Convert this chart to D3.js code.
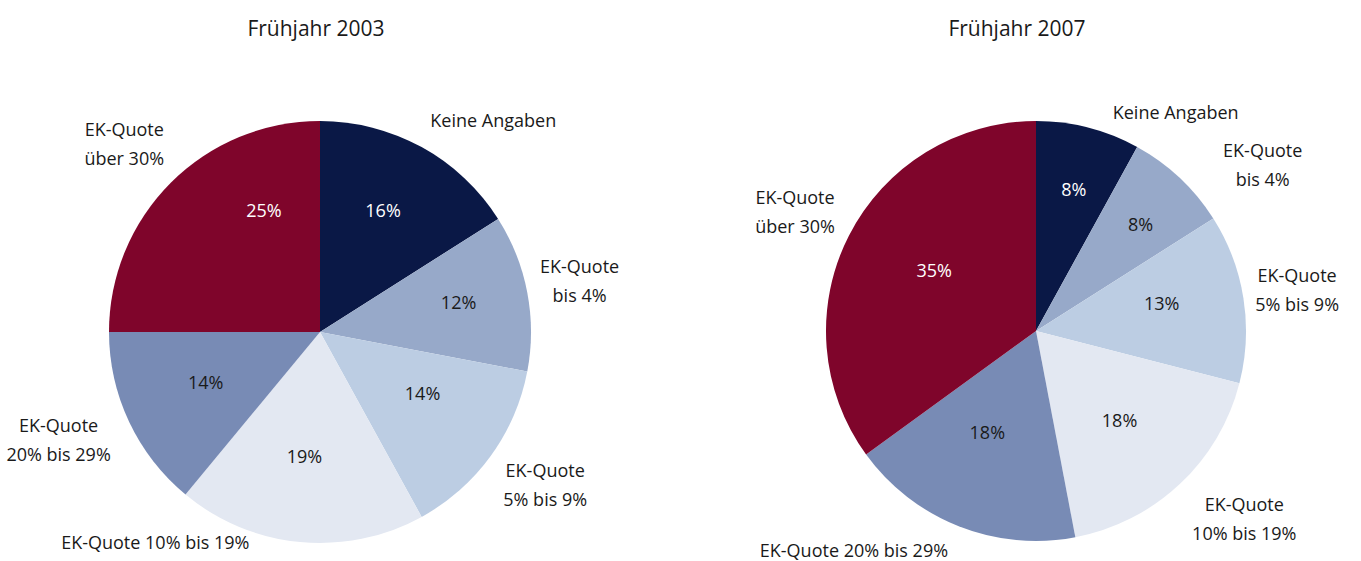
<!DOCTYPE html>
<html>
<head>
<meta charset="utf-8">
<script src="https://cdn.jsdelivr.net/npm/d3@7"></script>
<style>
  body { margin: 0; background: #fff; }
  svg text { font-family: "Open Sans", "Noto Sans", sans-serif; fill: #1a1a1a; }
</style>
</head>
<body>
<div id="chart"></div>
<script>
"use strict";

// categories, in clockwise order starting at 12 o'clock
var categories = [
  ["Keine Angaben"],
  ["EK-Quote", "bis 4%"],
  ["EK-Quote", "5% bis 9%"],
  ["EK-Quote", "10% bis 19%"],
  ["EK-Quote", "20% bis 29%"],
  ["EK-Quote", "über 30%"]
];
var titles = ["Frühjahr 2003", "Frühjahr 2007"];
var values2003 = [16, 12, 14, 19, 14, 25];
var values2007 = [8, 8, 13, 18, 18, 35];

var colors = ["#0a1846", "#97a9c9", "#bccde3", "#e3e8f2", "#788bb5", "#7f052b"];
var valueTextColor = ["#ffffff", "#1a1a1a", "#1a1a1a", "#1a1a1a", "#1a1a1a", "#ffffff"];

var width = 1361, height = 561;

var svg = d3.select("#chart").append("svg")
  .attr("width", width)
  .attr("height", height);

// layout: pie placement plus hand tweaks for labels the way Excel moved them
var panels = [
  {title: titles[0], values: values2003, cx: 320, cy: 332, r: 211, titleX: 316,
   valueNudge: [[-1, 0], [8, 1], [-5, -11], [-3, -3], [6, -1], [38, -22]],
   labelNudge: [[0, 0], [-5, -2], [-2, 4], [-49, 2], [-2, 0], [6, -7]]},
  {title: titles[1], values: values2007, cx: 1036, cy: 331, r: 210, titleX: 1017,
   valueNudge: [[5, -8], [14, -5], [-5, -2], [-7, -2], [0, -16], [16, 5]],
   labelNudge: [[20, 14], [31, 20], [-6, 0], [0, 4], [-4, 10], [2, -3]]}
];

var pie = d3.pie().sort(null).value(function(d) { return d; });

panels.forEach(function(p) {
  var g = svg.append("g").attr("transform", "translate(" + p.cx + "," + p.cy + ")");
  var arcs = pie(p.values);
  var arc = d3.arc().innerRadius(0).outerRadius(p.r);
  var valueArc = d3.arc().innerRadius(p.r * 0.63).outerRadius(p.r * 0.63);

  svg.append("text")
    .attr("x", p.titleX)
    .attr("y", 36)
    .attr("text-anchor", "middle")
    .style("font-size", "21px")
    .text(p.title);

  g.selectAll("path.slice").data(arcs)
    .enter()
    .append("path")
    .attr("class", "slice")
    .attr("d", arc)
    .style("fill", function(d, i) { return colors[i]; });

  // percentages inside
  g.selectAll("text.value").data(arcs)
    .enter()
    .append("text")
    .attr("class", "value")
    .attr("transform", function(d, i) {
      var c = valueArc.centroid(d);
      return "translate(" + (c[0] + p.valueNudge[i][0]) + "," + (c[1] + p.valueNudge[i][1]) + ")";
    })
    .attr("text-anchor", "middle")
    .attr("dy", "0.07em")
    .style("font-size", "18px")
    .style("fill", function(d, i) { return valueTextColor[i]; })
    .text(function(d) { return d3.format(".0f")(d.value) + "%"; });

  // category labels outside
  var lineH = 29, rl = p.r + 18;
  arcs.forEach(function(d, i) {
    var a = (d.startAngle + d.endAngle) / 2;
    var s = Math.sin(a), c = Math.cos(a);
    var lines = categories[i];
    if (lines.length > 1 && c < -0.9) lines = [lines.join(" ")];
    var t = g.append("text")
      .attr("class", "label")
      .attr("text-anchor", "middle")
      .style("font-size", "18px");
    lines.forEach(function(l, k) {
      t.append("tspan").attr("x", 0).attr("dy", k === 0 ? 0 : lineH).text(l);
    });
    var w = t.node().getBBox().width, h = lines.length * lineH - 6;
    var px = rl * s, py = -rl * c;
    var cx = px + (s >= 0 ? 1 : -1) * w / 2;
    var cy = py - c * h / 2;
    // keep inside the picture
    var bottom = height - p.cy - 8;
    if (cy + h / 2 > bottom) cy = bottom - h / 2;
    cx += p.labelNudge[i][0];
    cy += p.labelNudge[i][1];
    t.attr("transform", "translate(" + cx + "," + (cy - h / 2 + 17) + ")");
  });
});
</script>
</body>
</html>
